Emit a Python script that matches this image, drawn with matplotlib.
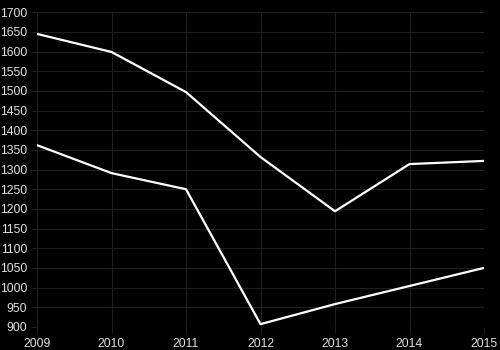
import matplotlib
matplotlib.use("Agg")
from matplotlib import pyplot as plt

plt.rcParams["font.family"] = ["Liberation Sans", "DejaVu Sans"]

years = [2009, 2010, 2011, 2012, 2013, 2014, 2015]
upper = [1645, 1599, 1497, 1332, 1194, 1314, 1322]
lower = [1362, 1291, 1250, 907, 958, 1004, 1050]

fig = plt.figure(figsize=(5, 3.5), dpi=100, facecolor="black")
ax = fig.add_axes([0.074, 0.066, 0.894, 0.899], facecolor="black")

ax.plot(years, upper, color="white", linewidth=1.6)
ax.plot(years, lower, color="white", linewidth=1.6)

ax.set_xlim(2009, 2015)
ax.set_ylim(900, 1700)
ax.set_xticks(years)
ax.set_yticks(range(900, 1701, 50))

ax.grid(True, color="#1e1e1e", linewidth=0.8)
ax.set_axisbelow(True)
for side in ax.spines.values():
    side.set_visible(False)

ax.tick_params(colors="#e0e0e0", labelsize=8.8, length=4, width=0.8, pad=2)
ax.tick_params(axis="x", color="#1e1e1e", pad=4)
ax.tick_params(axis="y", color="#1e1e1e", pad=3)

fig.savefig("out.png", dpi=100, facecolor="black")
